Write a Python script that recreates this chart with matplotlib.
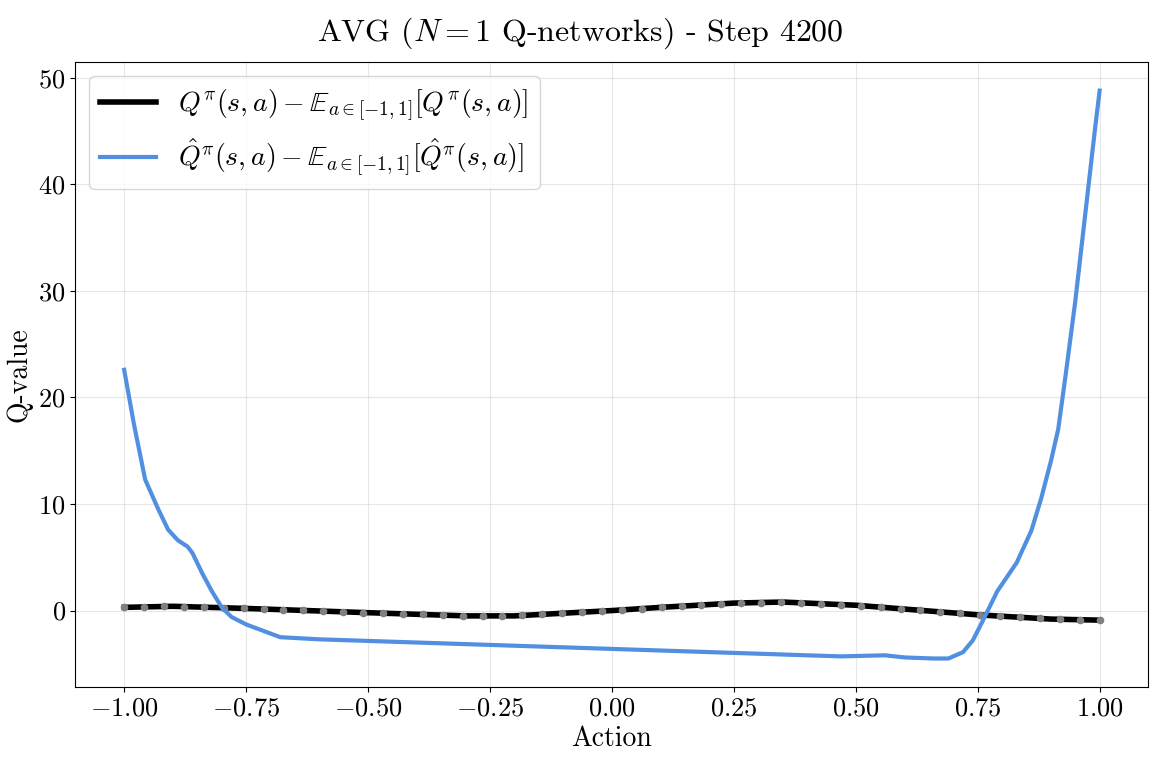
import numpy as np
import matplotlib
matplotlib.use("Agg")
import matplotlib.pyplot as plt

plt.rcParams['font.family'] = 'serif'
plt.rcParams['font.serif'] = ['cmr10']
plt.rcParams['mathtext.fontset'] = 'cm'
plt.rcParams['axes.formatter.use_mathtext'] = True
plt.rcParams['axes.unicode_minus'] = True

trueX = [-1.0, -0.9, -0.75, -0.5, -0.3, -0.2, 0.0, 0.1, 0.25, 0.35, 0.5, 0.75, 0.9, 1.0]
trueY = [0.3, 0.4, 0.2, -0.2, -0.5, -0.5, 0.0, 0.3, 0.7, 0.8, 0.5, -0.4, -0.8, -0.9]

estX = [-1.0, -0.98, -0.957, -0.93, -0.91, -0.89, -0.87, -0.86, -0.84, -0.82, -0.80, -0.78, -0.75,
        -0.68, -0.6, -0.4, -0.2, 0.0, 0.2, 0.4, 0.47, 0.56, 0.6, 0.66, 0.69, 0.72, 0.74, 0.76,
        0.79, 0.83, 0.86, 0.88, 0.9, 0.915, 0.93, 0.95, 0.97, 0.99, 1.0]
estY = [22.6, 17.5, 12.3, 9.5, 7.6, 6.6, 6.0, 5.4, 3.5, 1.8, 0.3, -0.6, -1.3,
        -2.5, -2.7, -3.0, -3.3, -3.6, -3.9, -4.2, -4.3, -4.2, -4.4, -4.5, -4.5, -3.9, -2.8, -1.0,
        1.8, 4.5, 7.5, 10.5, 14.0, 17.0, 22.0, 29.0, 37.0, 45.0, 48.8]

dotX = np.linspace(-1, 1, 50)
dotY = np.interp(dotX, trueX, trueY)

fig, ax = plt.subplots(figsize=(11.6, 7.59), dpi=100)
ax.plot(trueX, trueY, color='black', linewidth=4,
        label=r'$Q^{\pi}(s,a)-\mathbb{E}_{a\in[-1,1]}[Q^{\pi}(s,a)]$')
ax.plot(dotX, dotY, 'o', color='gray', markersize=4.5)
ax.plot(estX, estY, color='#5190e0', linewidth=3,
        label=r'$\hat{Q}^{\pi}(s,a)-\mathbb{E}_{a\in[-1,1]}[\hat{Q}^{\pi}(s,a)]$')
ax.grid(alpha=0.3)
ax.set_xlabel('Action', fontsize=20)
ax.set_ylabel('Q-value', fontsize=20)
ax.tick_params(labelsize=19)
ax.legend(loc='upper left', fontsize=20)
fig.suptitle(r'AVG ($N=1$ Q-networks) - Step 4200', fontsize=23)
fig.subplots_adjust(left=0.065, right=0.99, top=0.918, bottom=0.095)
fig.savefig('out.png')
